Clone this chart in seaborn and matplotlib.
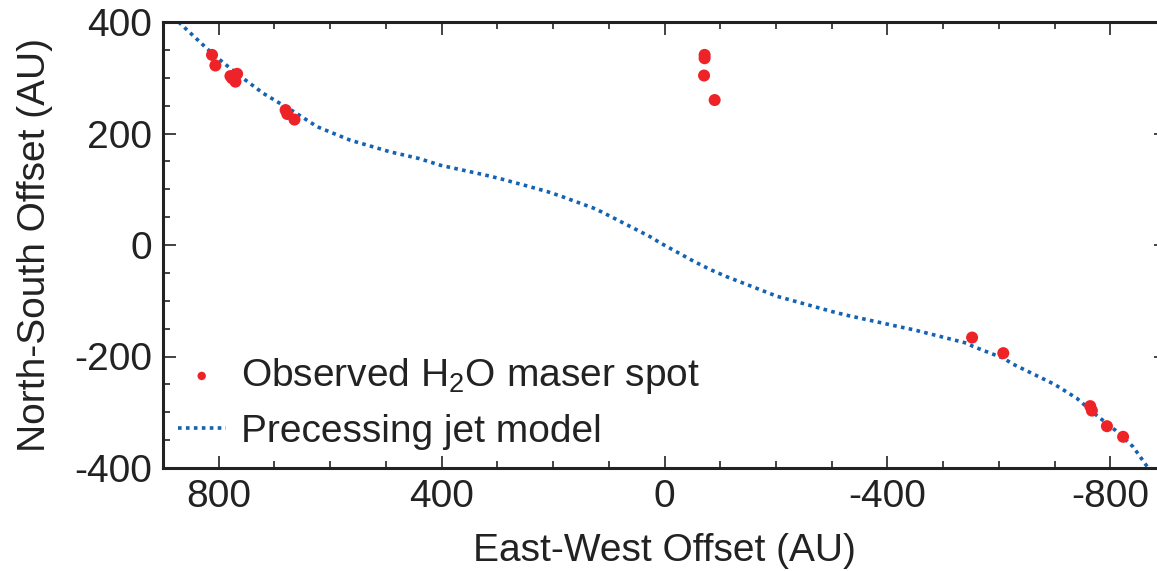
import matplotlib
matplotlib.use("Agg")
import matplotlib.pyplot as plt
import seaborn as sns
import pandas as pd
from matplotlib.ticker import MultipleLocator

# Observed H2O maser spots (East-West offset, North-South offset) in AU
spot_x = [812, 806, 779, 776, 770, 767, 680, 677, 664,
          -72, -72, -71, -90,
          -552, -608, -764, -767, -794, -823]
spot_y = [341, 322, 303, 299, 293, 307, 242, 235, 225,
          341, 335, 304, 260,
          -166, -194, -289, -297, -325, -344]

# Precessing jet model curve
model_x = [872, 840, 809, 767, 720, 665, 623, 564, 492, 440, 402, 324, 295, 247,
           211, 187, 127, 112, 67, 26, 8, -52, -82, -112, -184, -202, -303, -327,
           -423, -447, -542, -554, -608, -626, -700, -740, -776, -810, -841, -868]
model_y = [400, 370, 341, 307, 272, 239, 212, 188, 167, 155, 143, 126, 119, 106,
           96, 88, 66, 59, 36, 15, 4, -29, -44, -57, -85, -92, -120, -126,
           -147, -152, -176, -182, -203, -214, -250, -275, -306, -333, -362, -400]

x_ticks = [800, 400, 0, -400, -800]
y_ticks = [400, 200, 0, -200, -400]

FS = 28

sns.set_style("ticks")
plt.rcParams['font.family'] = ['Liberation Sans', 'DejaVu Sans']
plt.rcParams['mathtext.default'] = 'regular'
plt.rcParams['axes.unicode_minus'] = False

fig = plt.figure(figsize=(11.57, 5.71), dpi=100)
ax = fig.add_axes([163/1157, 103/571, (1166-163)/1157, (468-22)/571])

spots = pd.DataFrame({"x": spot_x, "y": spot_y})
model = pd.DataFrame({"x": model_x, "y": model_y})

sns.lineplot(data=model, x="x", y="y", sort=False, ax=ax, color="#1462b4",
             linewidth=2.6, linestyle=(0, (1.0, 1.2)), dash_capstyle="butt",
             label="Precessing jet model", zorder=2)
sns.scatterplot(data=spots, x="x", y="y", ax=ax, color="#ee2328", s=75,
                edgecolor="none", label="Observed H$_2$O maser spot", zorder=3)

ax.set_xlim(900, -900)
ax.set_ylim(-400, 400)
ax.set_xticks(x_ticks)
ax.set_yticks(y_ticks)
ax.xaxis.set_minor_locator(MultipleLocator(100))
ax.yaxis.set_minor_locator(MultipleLocator(50))
ax.tick_params(which="both", direction="in", top=True, right=True,
               labelsize=FS, colors="#222222", width=1.2)
ax.tick_params(which="major", length=9, pad=8)
ax.tick_params(which="minor", length=5)
for s in ax.spines.values():
    s.set_linewidth(2.2)
    s.set_color("#222222")

ax.set_xlabel("East-West Offset (AU)", fontsize=FS, color="#222222", labelpad=13)
ax.set_ylabel("North-South Offset (AU)", fontsize=FS, color="#222222", labelpad=15)

handles, labels = ax.get_legend_handles_labels()
order = [labels.index("Observed H$_2$O maser spot"), labels.index("Precessing jet model")]
leg = ax.legend([handles[i] for i in order], [labels[i] for i in order],
                loc="lower left", bbox_to_anchor=(0.0, 0.008), frameon=False,
                fontsize=FS, handlelength=1.23, handletextpad=0.4,
                labelspacing=0.45, borderaxespad=0.0, borderpad=0.38,
                markerscale=0.7)
for t in leg.get_texts():
    t.set_color("#222222")

fig.savefig("out.png", dpi=100)
